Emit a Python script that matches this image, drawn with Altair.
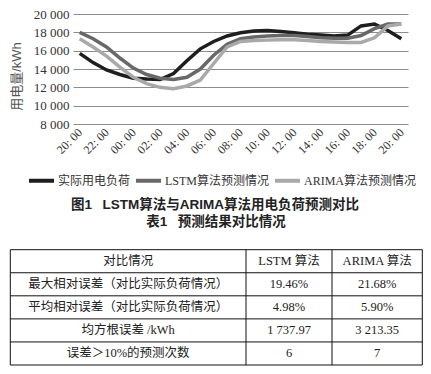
import altair as alt
import pandas as pd

# ---------------- data ----------------
times = ["20: 00", "21: 00", "22: 00", "23: 00", "00: 00", "01: 00", "02: 00",
         "03: 00", "04: 00", "05: 00", "06: 00", "07: 00", "08: 00", "09: 00",
         "10: 00", "11: 00", "12: 00", "13: 00", "14: 00", "15: 00", "16: 00",
         "17: 00", "18: 00", "19: 00", "20: 00"]
series_names = ["实际用电负荷", "LSTM算法预测情况", "ARIMA算法预测情况"]
actual = [15700, 14700, 13900, 13400, 13000, 12900, 12850, 13500, 14900, 16200,
          17000, 17600, 17950, 18150, 18200, 18100, 17950, 17800, 17700, 17600,
          17700, 18700, 18900, 18200, 17300]
lstm = [18000, 17300, 16400, 15200, 14100, 13400, 13000, 12850, 13100, 14000,
        15500, 16700, 17300, 17500, 17600, 17650, 17650, 17550, 17400, 17350,
        17350, 17650, 18400, 18900, 18900]
arima = [17300, 16400, 15400, 14200, 13100, 12400, 12000, 11850, 12150, 12800,
         14600, 16400, 17000, 17100, 17150, 17200, 17200, 17100, 17000, 16950,
         16900, 16900, 17400, 18700, 18900]
y_ticks = [8000, 10000, 12000, 14000, 16000, 18000, 20000]

caption_fig = "图1\u2002\u00a0LSTM算法与ARIMA算法用电负荷预测对比"
caption_tbl = "表1\u2002\u00a0预测结果对比情况"
tbl_header = ["对比情况", "LSTM 算法", "ARIMA 算法"]
tbl_items = ["最大相对误差（对比实际负荷情况）", "平均相对误差（对比实际负荷情况）",
             "均方根误差 /kWh", "误差＞10%的预测次数"]
tbl_lstm = ["19.46%", "4.98%", "1 737.97", "6"]
tbl_arima = ["21.68%", "5.90%", "3 213.35", "7"]

# ---------------- layout / style ----------------
colors = ["#1e1e1e", "#686868", "#a9a9a9"]
col_edges = [0, 235.7, 321.7, 412]
SERIF = "Liberation Serif, Noto Sans CJK SC"
SANS = "Liberation Sans, Noto Sans CJK SC"

# ---------------- line chart ----------------
rows = []
for name, vals in zip(series_names, [actual, lstm, arima]):
    for i, v in enumerate(vals):
        rows.append({"idx": i, "time": times[i], "series": name, "value": v})
df = pd.DataFrame(rows)

label_arr = "[" + ",".join("'" + t + "'" for t in times) + "]"

lines = alt.Chart(df).mark_line(strokeWidth=3.5, clip=False).encode(
    x=alt.X("idx:Q",
            scale=alt.Scale(domain=[-0.5, 24.5], nice=False, zero=False),
            axis=alt.Axis(values=list(range(0, 25, 2)),
                          labelExpr=label_arr + "[datum.value]",
                          labelAngle=-45, labelAlign="right", labelBaseline="middle",
                          labelOverlap=False, labelBound=False, labelFlush=False,
                          grid=False, ticks=False, domain=False, title=None,
                          labelFont=SERIF, labelFontSize=12, labelColor="#333333",
                          labelPadding=6)),
    y=alt.Y("value:Q",
            scale=alt.Scale(domain=[8000, 20000], nice=False, zero=False),
            axis=alt.Axis(values=y_ticks,
                          labelExpr="replace(format(datum.value, ','), ',', ' ')",
                          labelOverlap=False,
                          grid=True, gridColor="#8c8c8c", gridWidth=1.2,
                          ticks=False, domain=False,
                          title="用电量/kWh", titleFont=SANS, titleFontSize=13,
                          titleFontWeight="normal", titleColor="#555555",
                          titlePadding=10, titleY=62,
                          labelFont=SERIF, labelFontSize=13, labelColor="#333333",
                          labelPadding=4)),
    color=alt.Color("series:N",
                    sort=series_names,
                    scale=alt.Scale(domain=series_names, range=colors),
                    legend=alt.Legend(orient="none", legendX=-46, legendY=152,
                                      direction="horizontal", title=None,
                                      symbolType="stroke", symbolSize=625,
                                      symbolStrokeWidth=4,
                                      labelFont=SERIF, labelFontSize=12,
                                      labelColor="#333333", labelOffset=2,
                                      columnPadding=-3, padding=0)),
).properties(width=335, height=110)

# ---------------- captions + table ----------------
cells = []
for c, t in enumerate(tbl_header):
    cells.append({"r": 0, "xc": (col_edges[c] + col_edges[c + 1]) / 2, "text": t})
for k in range(len(tbl_items)):
    for c, t in enumerate([tbl_items[k], tbl_lstm[k], tbl_arima[k]]):
        cells.append({"r": k + 1, "xc": (col_edges[c] + col_edges[c + 1]) / 2, "text": t})
cells_df = pd.DataFrame(cells)

n_rows = len(tbl_items) + 1
hlines = pd.DataFrame({"r": [i - 0.5 for i in range(n_rows + 1)],
                       "x0": [col_edges[0]] * (n_rows + 1),
                       "x1": [col_edges[-1]] * (n_rows + 1)})
vlines = pd.DataFrame({"xe": col_edges,
                       "y0": [-0.5] * len(col_edges),
                       "y1": [n_rows - 0.5] * len(col_edges)})

# the table starts left of the line chart's plot area
xs = alt.Scale(domain=[0, 412], range=[-62.7, 349.3], nice=False, zero=False)
ys = alt.Scale(domain=[-0.5, n_rows - 0.5], range=[55.7, 171], nice=False, zero=False)

h_rule = alt.Chart(hlines).mark_rule(color="#111111", strokeWidth=1).encode(
    y=alt.Y("r:Q", scale=ys, axis=None),
    x=alt.X("x0:Q", scale=xs, axis=None), x2="x1:Q")
v_rule = alt.Chart(vlines).mark_rule(color="#111111", strokeWidth=1).encode(
    x=alt.X("xe:Q", scale=xs, axis=None),
    y=alt.Y("y0:Q", scale=ys, axis=None), y2="y1:Q")
cell_text = alt.Chart(cells_df).mark_text(font=SERIF, fontSize=12.5, color="#222222",
                                          baseline="middle", align="center").encode(
    x=alt.X("xc:Q", scale=xs, axis=None),
    y=alt.Y("r:Q", scale=ys, axis=None),
    text="text:N")
cap1 = alt.Chart(pd.DataFrame({"t": [caption_fig]})).mark_text(
    font=SANS, fontSize=13.5, fontWeight="bold", color="#222222",
    baseline="middle", align="center").encode(
    text="t:N", x=alt.value(142), y=alt.value(10.5))
cap2 = alt.Chart(pd.DataFrame({"t": [caption_tbl]})).mark_text(
    font=SANS, fontSize=13.5, fontWeight="bold", color="#222222",
    baseline="middle", align="center").encode(
    text="t:N", x=alt.value(143), y=alt.value(28))

bottom = alt.layer(h_rule, v_rule, cell_text, cap1, cap2).properties(width=335, height=171)

chart = alt.concat(lines, bottom, columns=1, spacing=38).properties(
    padding={"left": 1, "top": 0, "right": 0, "bottom": 0},
    background="white",
).configure_view(stroke=None)

chart.save("out.html", embed_options={"renderer": "svg", "actions": False})
